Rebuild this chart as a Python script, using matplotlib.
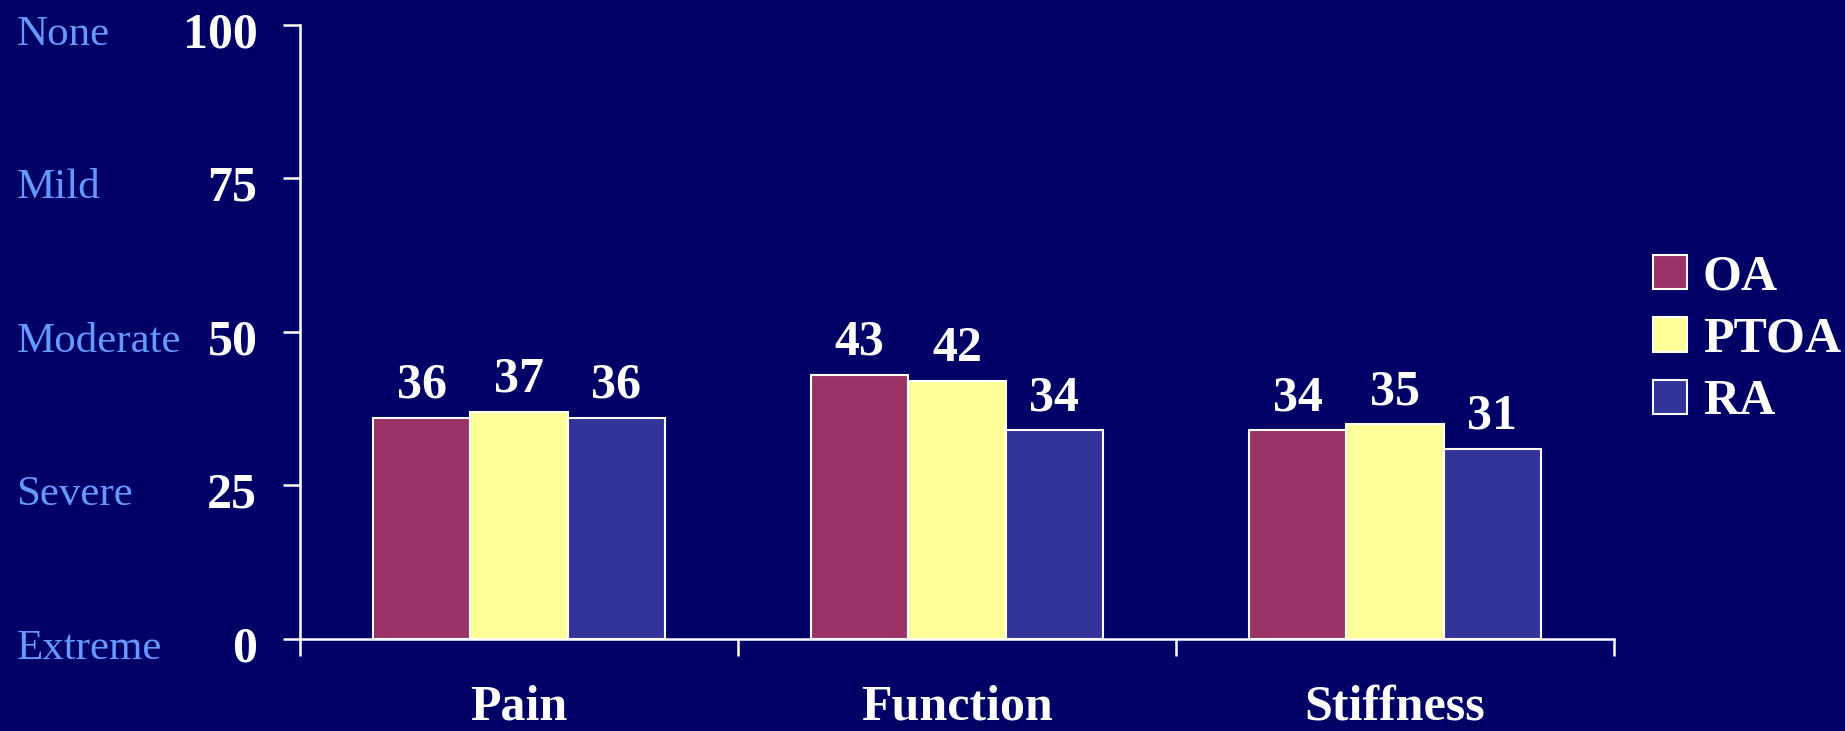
import numpy as np
import matplotlib.pyplot as plt
from matplotlib.patches import Patch
from matplotlib.transforms import blended_transform_factory, ScaledTranslation

# ----------------------------------------------------------
# Data
# ----------------------------------------------------------
categories = ["Pain", "Function", "Stiffness"]
groups = ["OA", "PTOA", "RA"]
oa_values = [36, 43, 34]
ptoa_values = [37, 42, 35]
ra_values = [36, 34, 31]
y_ticks = [0, 25, 50, 75, 100]
severity_labels = ["Extreme", "Severe", "Moderate", "Mild", "None"]

bg = "#000066"
colors = ["#993366", "#FFFF99", "#333399"]
label_blue = "#6699FF"
font = "Liberation Serif"
big = 36      # bold white text
small = 31    # blue severity labels

plt.rcParams.update({
    "font.family": font,
    "font.size": big,
})

fig = plt.figure(figsize=(18.45, 7.31), dpi=100, facecolor=bg)
ax = fig.add_axes([0.1626, 0.1259, 0.8748 - 0.1626, 0.9658 - 0.1259])
ax.set_facecolor(bg)

x = np.arange(len(categories)) + 0.5
width = 0.2222
series = [oa_values, ptoa_values, ra_values]

for i, (vals, col, name) in enumerate(zip(series, colors, groups)):
    pos = x + (i - 1) * width
    bars = ax.bar(pos, vals, width=width, color=col, edgecolor="white",
                  linewidth=1.5, label=name)
    for b, v in zip(bars, vals):
        ax.annotate(str(v), (b.get_x() + b.get_width() / 2, v),
                    xytext=(0, 14.4), textcoords="offset points",
                    ha="center", va="baseline", color="white",
                    fontweight="bold", fontsize=big)

ax.set_xlim(0, 3)
ax.set_ylim(0, 100)

# spines
for s in ["top", "right"]:
    ax.spines[s].set_visible(False)
for s in ["left", "bottom"]:
    ax.spines[s].set_color("white")
    ax.spines[s].set_linewidth(1.8)

# small downward nudge for the left-hand labels
nudge = ScaledTranslation(0, -0.05, fig.dpi_scale_trans)

# y ticks: drawn as text so they can be nudged
ax.set_yticks(y_ticks)
ax.set_yticklabels([])
ax.tick_params(axis="y", colors="white", length=12, width=1.8)
trans_num = blended_transform_factory(ax.transAxes, ax.transData)
for t in y_ticks:
    ax.text(-0.0325, t, str(t), transform=trans_num + nudge, ha="right",
            va="center_baseline", color="white", fontweight="bold",
            fontsize=big)

# x ticks at category boundaries, no labels
ax.set_xticks([0, 1, 2, 3])
ax.set_xticklabels([])
ax.tick_params(axis="x", colors="white", length=12, width=1.8)

# category labels
trans = blended_transform_factory(ax.transData, fig.transFigure)
for xi, cat in zip(x, categories):
    ax.text(xi, 0.0, cat, transform=trans, ha="center", va="bottom",
            color="white", fontweight="bold", fontsize=big)

# severity labels on far left
trans_y = blended_transform_factory(fig.transFigure, ax.transData)
for t, lab in zip(y_ticks, severity_labels):
    ax.text(0.009, t, lab, transform=trans_y + nudge, ha="left",
            va="center_baseline", color=label_blue, fontsize=small)

# legend
handles = [Patch(facecolor=c, edgecolor="white", linewidth=1.5) for c in colors]
leg = fig.legend(handles, groups, loc="center left",
                 bbox_to_anchor=(0.885, 0.535), frameon=False,
                 handlelength=0.68, handleheight=0.68, handletextpad=0.32,
                 labelspacing=0.33, borderaxespad=0, fontsize=big)
for txt in leg.get_texts():
    txt.set_color("white")
    txt.set_fontweight("bold")

fig.savefig("out.png", dpi=100, facecolor=bg)
